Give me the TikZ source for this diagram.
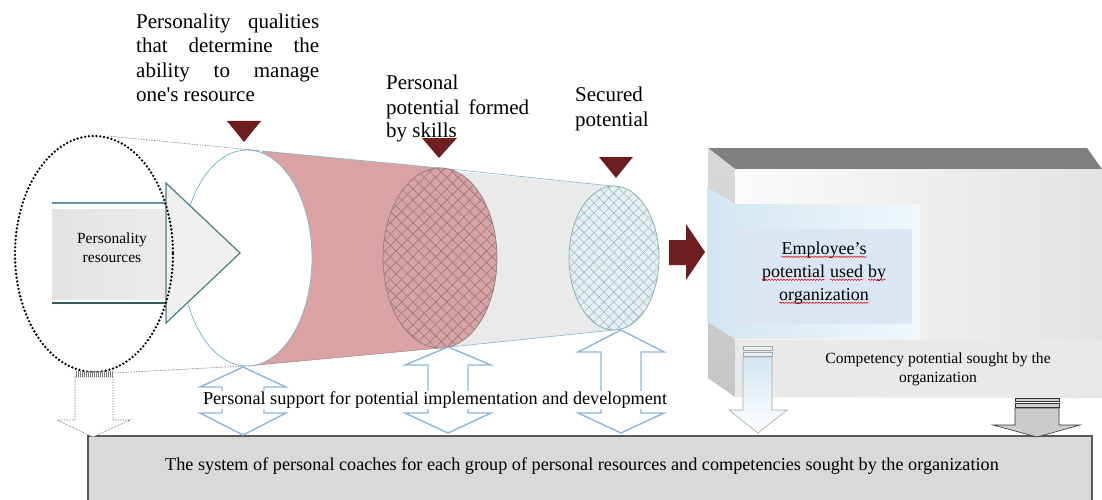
\documentclass[tikz,border=0pt]{standalone}
\usepackage{fontspec}
\setmainfont{Liberation Serif}
\usetikzlibrary{patterns.meta,decorations.pathmorphing}
\newcommand\redwave[1]{\tikz[baseline=(wv.base)]{\node[inner sep=0pt,outer sep=0pt](wv){#1};
  \draw[red!85!black, line width=0.5pt, decorate, decoration={snake, amplitude=0.7pt, segment length=3pt}]
   ([yshift=-2.5pt]wv.base west) -- ([yshift=-2.5pt]wv.base east);}}
\definecolor{darkred}{RGB}{110,30,30}
\definecolor{pinkc}{RGB}{218,162,162}
\definecolor{hatchpink}{RGB}{150,120,125}
\definecolor{conegray}{RGB}{234,234,234}
\definecolor{tealline}{RGB}{125,185,200}
\definecolor{bluearrow}{RGB}{141,180,226}
\definecolor{panelblue}{RGB}{210,230,242}
\definecolor{innerblue}{RGB}{220,230,242}
\definecolor{boxgray}{RGB}{217,217,217}
\definecolor{light3}{RGB}{232,238,240}
\definecolor{hatchteal}{RGB}{150,190,200}
\newcommand\dblarr[8]{%
  \draw[dbl] (#1,#2) -- ({#1+#4},#3) -- ({#1+#5},#3) -- ({#1+#5},#6) -- ({#1+#4},#6)
    -- (#1,#7) -- ({#1-#4},#6) -- ({#1-#5},#6) -- ({#1-#5},#3) -- ({#1-#4},#3) -- cycle;
  \coordinate (#8) at (#1,#2);}
\begin{document}
\begin{tikzpicture}[x=1pt,y=-1pt,
  tri/.style={fill=darkred},
  lbl/.style={inner sep=0pt, font=\fontsize{21}{25}\selectfont, align=left, anchor=base west},
  dbl/.style={draw=bluearrow, line width=1.4pt, fill=white, line join=miter},
  dotln/.style={densely dotted, line width=0.6pt, gray!60!black}]
\useasboundingbox[fill=white] (0,0) rectangle (1102,500);

% ---- bottom box
\fill[boxgray] (88,436) rectangle (1092,500);
\draw[gray!70!black, line width=1.2pt] (88,500) -- (88,436) -- (1092,436) -- (1092,500);
\node[font=\fontsize{18.2}{22}\selectfont] (sys) at (582,466) {The system of personal coaches for each group of personal resources and competencies sought by the organization};

% ---- cones
\fill[conegray] (432,169) -- (614,186) -- (614,330) -- (440,348) -- cycle;
\draw[tealline, line width=0.6pt] (440,168) -- (612,186);
\draw[tealline, line width=0.6pt] (440,348) -- (614,330);
\fill[pinkc] (262,151) -- (440,168) -- (440,348) -- (247,366) -- cycle;
\draw[tealline, line width=0.6pt] (262,151) -- (440,168);
\draw[pinkc!80!black, line width=0.5pt] (247,366) -- (440,348);

% ellipse 1
\draw[tealline, line width=0.8pt, fill=white] (247,258) ellipse (65 and 108);
% ellipse 2
\fill[pinkc] (440,258) ellipse (57 and 90);
\fill[pattern={Lines[angle=45,distance=8pt,line width=0.6pt]}, pattern color=hatchpink] (440,258) ellipse (57 and 90);
\fill[pattern={Lines[angle=-45,distance=8pt,line width=0.6pt]}, pattern color=hatchpink] (440,258) ellipse (57 and 90);
\draw[hatchpink, line width=0.7pt] (440,258) ellipse (57 and 90);
% ellipse 3
\fill[light3] (614,258) ellipse (45 and 72);
\fill[pattern={Lines[angle=45,distance=7pt,line width=0.6pt]}, pattern color=hatchteal] (614,258) ellipse (45 and 72);
\fill[pattern={Lines[angle=-45,distance=7pt,line width=0.6pt]}, pattern color=hatchteal] (614,258) ellipse (45 and 72);
\draw[gray!50!teal!60, line width=0.8pt] (614,258) ellipse (45 and 72);

% ---- personality resources arrow
\draw[tealline!80!black, line width=1.2pt] (52,203) -- (166,203);
\draw[gray!60!teal!70!black, line width=1.2pt] (52,303) -- (166,303);
\shade[left color=gray!22, right color=gray!15] (52,209) rectangle (167,299);
\draw[fill=gray!12, draw=teal!40!gray, line width=1.2pt] (166,183) -- (240,253) -- (166,323) -- cycle;
\node[font=\fontsize{15.5}{19}\selectfont, align=center] (res) at (112,248) {Personality\\resources};

% dotted ellipse
\draw[line width=2.6pt, dash pattern=on 0pt off 3.8pt, line cap=round] (94,254) ellipse (79 and 118);
\draw[dotln] (108,136) -- (262,151);
\draw[dotln] (112,373) -- (245,366);

% left dotted arrow
\fill[pattern={Lines[angle=90,distance=2pt,line width=0.5pt]}, pattern color=gray] (75,371) rectangle (113,377);
\draw[dotln, fill=white] (75,377) -- (113,377) -- (113,420) -- (130,420) -- (93,437) -- (57,420) -- (75,420) -- cycle;

% ---- triangles
\fill[tri] (227,121) -- (261,121) -- (244,142) -- cycle;
\fill[tri] (422,138) -- (457,138) -- (439,158) -- cycle;
\fill[tri] (599,157) -- (633,157) -- (616,178) -- cycle;

% ---- labels
\node[lbl] (q1) at (136,29) {\makebox[183pt][s]{Personality qualities}};
\node[lbl] (q2) at (136,53) {\makebox[183pt][s]{that determine the}};
\node[lbl] (q3) at (136,78) {\makebox[183pt][s]{ability to manage}};
\node[lbl] (q4) at (136,102) {one\textquotesingle s resource};
\node[lbl] (p1) at (386,90) {Personal};
\node[lbl] (p2) at (386,114) {\makebox[143pt][s]{potential formed}};
\node[lbl] (p3) at (386,138) {by skills};
\node[lbl] (s1) at (575,102) {Secured};
\node[lbl] (s2) at (575,126) {potential};

% ---- dark red arrow
\fill[darkred] (669,240) -- (686,240) -- (686,224) -- (705,252) -- (686,280) -- (686,265) -- (669,265) -- cycle;

% ---- 3D box
\fill[gray] (708,148) -- (1087,148) -- (1102,169) -- (735,169) -- cycle;
\shade[top color=gray!30, bottom color=gray!45] (708,148) -- (735,169) -- (735,397) -- (708,378) -- cycle;
\shade[left color=gray!3, right color=gray!22] (735,169) rectangle (1102,397);
\fill[gray!17] (735,340) rectangle (1102,397);
\shade[left color=panelblue, right color=panelblue!30] (707,187) -- (735,204) -- (920,204) -- (920,339) -- (735,339) -- (707,322) -- cycle;
\fill[innerblue] (737,229) rectangle (912,324);
\node[font=\fontsize{18}{23}\selectfont, align=center] (emp) at (824,273)
  {\redwave{Employee’s}\\\redwave{potential} \redwave{used} \redwave{by}\\\redwave{organization}};
\node[font=\fontsize{15.6}{19}\selectfont, align=center] (comp) at (938,369)
  {Competency potential sought by the\\organization};

% blue down arrow
\shade[top color=panelblue, bottom color=white, draw=gray!70, line width=0.6pt]
  (743,357) -- (772,357) -- (772,410) -- (787,410) -- (758,433) -- (729,410) -- (743,410) -- cycle;
\draw[gray!70, fill=panelblue!60, line width=0.6pt] (743,346) rectangle (772,350);
\draw[gray!70, fill=panelblue!60, line width=0.6pt] (743,352) rectangle (772,356);
% gray down arrow
\draw[gray!40!black, fill=gray!40, line width=0.6pt]
  (1015,408) -- (1059,408) -- (1059,425) -- (1080,425) -- (1037,437) -- (993,425) -- (1015,425) -- cycle;
\draw[gray!40!black, fill=gray!40, line width=0.6pt] (1015,398) rectangle (1059,401);
\draw[gray!40!black, fill=gray!40, line width=0.6pt] (1015,403) rectangle (1059,407);

% ---- blue double arrows
\dblarr{243}{367}{387}{43}{21}{413}{435}{d1}
\dblarr{448}{347}{365}{43}{20}{413}{433}{d2}
\dblarr{621}{330}{352}{43}{20}{413}{433}{d3}
\node[fill=white, inner sep=1pt, font=\fontsize{18.2}{22}\selectfont] (sup) at (435,400) {Personal support for potential implementation and development};
\end{tikzpicture}
\end{document}
